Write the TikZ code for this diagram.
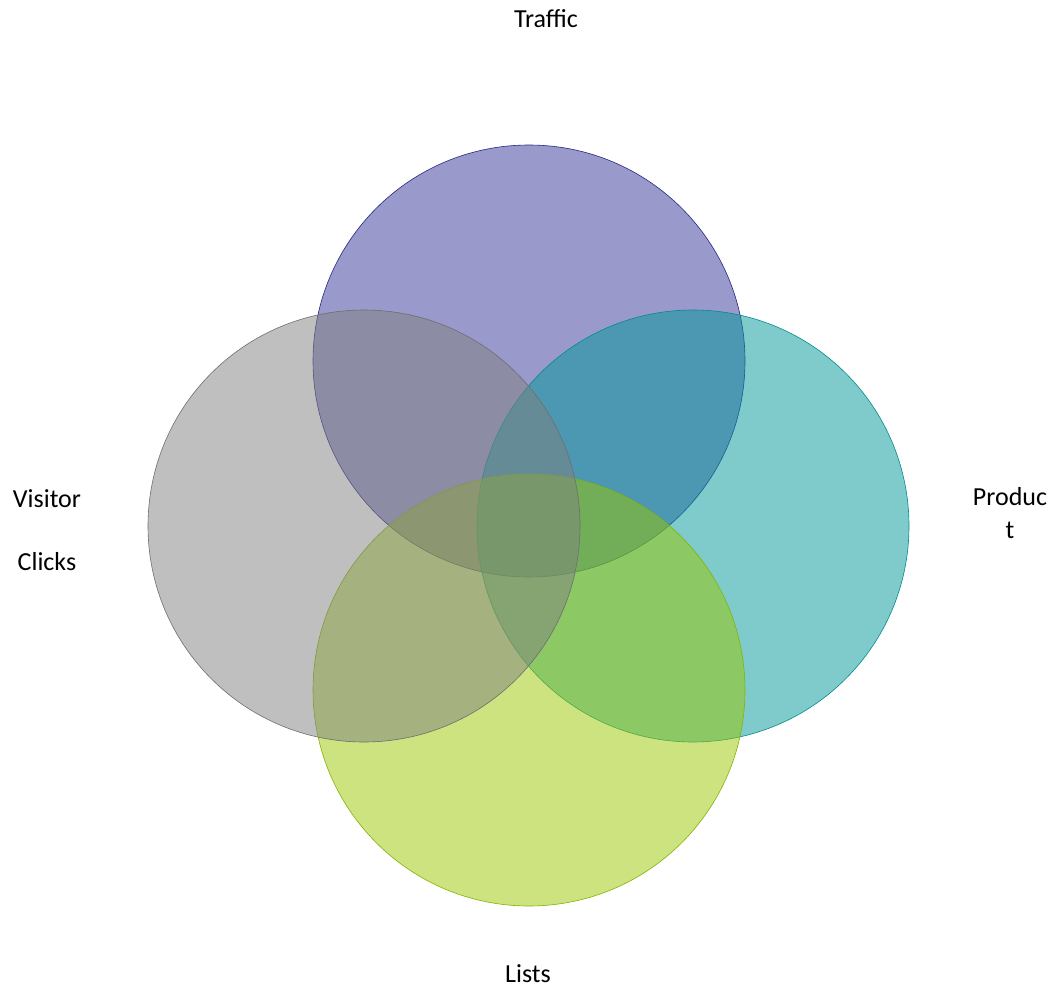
\documentclass[tikz,border=0pt]{standalone}
\usepackage{fontspec}
\setmainfont{Carlito}
\definecolor{cTop}{RGB}{51,51,153}
\definecolor{cTopL}{RGB}{40,40,130}
\definecolor{cRight}{RGB}{0,151,151}
\definecolor{cRightL}{RGB}{0,140,140}
\definecolor{cBot}{RGB}{153,199,0}
\definecolor{cBotL}{RGB}{130,180,0}
\definecolor{cLeft}{RGB}{128,128,128}
\definecolor{cLeftL}{RGB}{110,110,110}
\begin{document}
\begin{tikzpicture}[x=1pt,y=-1pt,
  venn/.style={circle,minimum size=432pt,inner sep=0pt,fill opacity=0.5,line width=0.6pt},
  lab/.style={anchor=base,inner sep=0pt,font=\fontsize{26}{30}\selectfont}]
\useasboundingbox (0,0) rectangle (1049,987);
\node[venn,fill=cTop,draw=cTopL] (top) at (529,361) {};
\node[venn,fill=cRight,draw=cRightL] (right) at (693,526) {};
\node[venn,fill=cBot,draw=cBotL] (bot) at (529,690) {};
\node[venn,fill=cLeft,draw=cLeftL] (left) at (364,526) {};
\node[lab] (traffic) at (546,28) {Traffic};
\node[lab] (visitor) at (47,507) {Visitor};
\node[lab] (clicks) at (47,570) {Clicks};
\node[lab] (produc) at (1010,505) {Produc};
\node[lab] (t) at (1010,538) {t};
\node[lab] (lists) at (528,982) {Lists};
\end{tikzpicture}
\end{document}
